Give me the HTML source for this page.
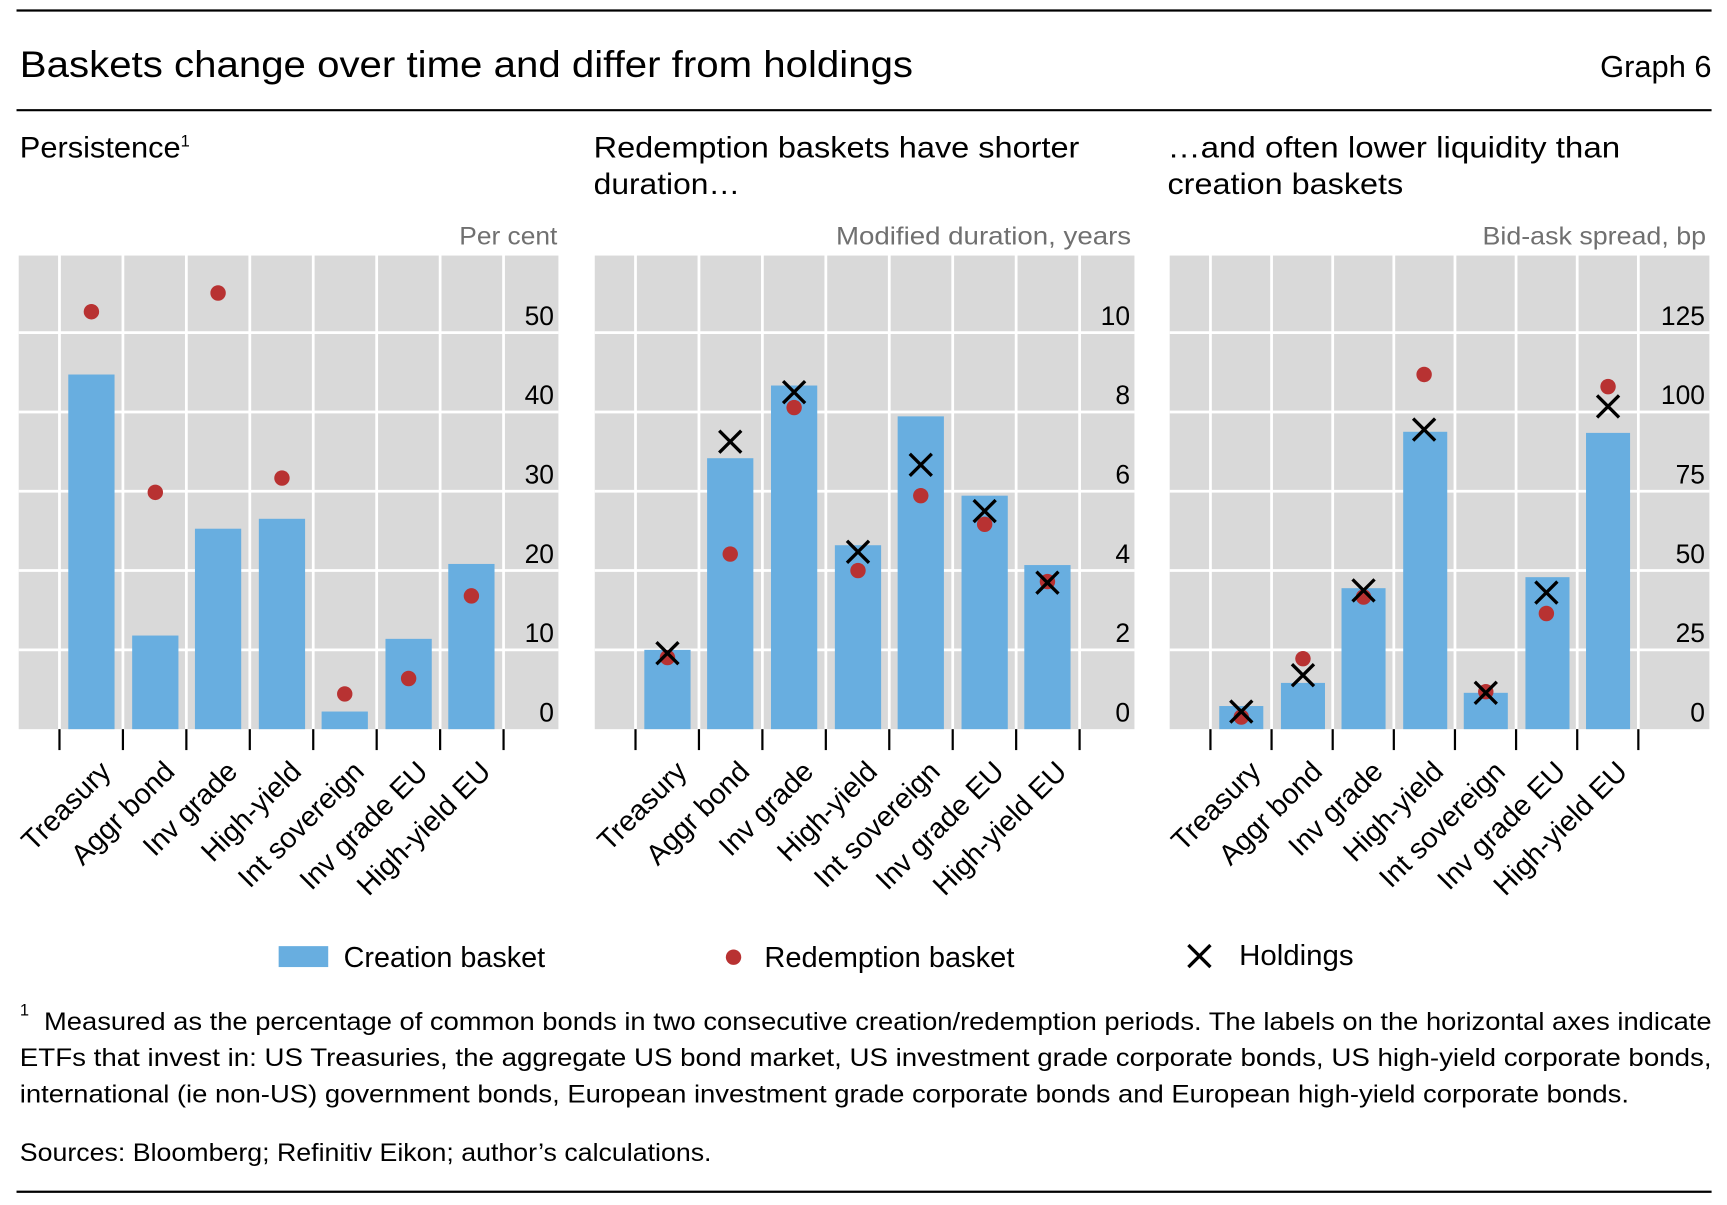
<!DOCTYPE html>
<html><head><meta charset="utf-8"><style>
html,body{margin:0;padding:0;background:#fff}
svg{display:block}
text{font-family:"Liberation Sans",sans-serif}
</style></head><body>
<svg width="1727" height="1205" viewBox="0 0 1568 1094" xmlns="http://www.w3.org/2000/svg">
<rect width="1568" height="1094" fill="#fff"/>
<line x1="15" y1="9.5" x2="1554" y2="9.5" stroke="#000" stroke-width="2"/>
<text x="18" y="70" font-size="34" textLength="811" lengthAdjust="spacingAndGlyphs">Baskets change over time and differ from holdings</text>
<text x="1554" y="70" font-size="28" text-anchor="end">Graph 6</text>
<line x1="15" y1="100" x2="1554" y2="100" stroke="#000" stroke-width="2"/>

<text x="18" y="143" font-size="27"><tspan textLength="146" lengthAdjust="spacingAndGlyphs">Persistence</tspan><tspan font-size="15" dy="-10">1</tspan></text>
<text x="539" y="143" font-size="27" textLength="441" lengthAdjust="spacingAndGlyphs">Redemption baskets have shorter</text>
<text x="539" y="176" font-size="27" textLength="133" lengthAdjust="spacingAndGlyphs">duration…</text>
<text x="1060" y="143" font-size="27" textLength="411" lengthAdjust="spacingAndGlyphs">…and often lower liquidity than</text>
<text x="1060" y="176" font-size="27" textLength="214" lengthAdjust="spacingAndGlyphs">creation baskets</text>

<g font-size="23" fill="#707070">
<text x="417" y="222" textLength="89" lengthAdjust="spacingAndGlyphs">Per cent</text>
<text x="759" y="222" textLength="268" lengthAdjust="spacingAndGlyphs">Modified duration, years</text>
<text x="1346" y="222" textLength="203" lengthAdjust="spacingAndGlyphs">Bid-ask spread, bp</text>
</g>

<rect x="17" y="232" width="490" height="430" fill="#d9d9d9"/>
<rect x="540" y="232" width="490" height="430" fill="#d9d9d9"/>
<rect x="1062" y="232" width="490" height="430" fill="#d9d9d9"/>
<g stroke="#fff" stroke-width="2.5">
<line x1="17" x2="507" y1="302" y2="302"/><line x1="17" x2="507" y1="374" y2="374"/><line x1="17" x2="507" y1="446" y2="446"/><line x1="17" x2="507" y1="518" y2="518"/><line x1="17" x2="507" y1="590" y2="590"/>
<line x1="540" x2="1030" y1="302" y2="302"/><line x1="540" x2="1030" y1="374" y2="374"/><line x1="540" x2="1030" y1="446" y2="446"/><line x1="540" x2="1030" y1="518" y2="518"/><line x1="540" x2="1030" y1="590" y2="590"/>
<line x1="1062" x2="1552" y1="302" y2="302"/><line x1="1062" x2="1552" y1="374" y2="374"/><line x1="1062" x2="1552" y1="446" y2="446"/><line x1="1062" x2="1552" y1="518" y2="518"/><line x1="1062" x2="1552" y1="590" y2="590"/>
<line x1="54" x2="54" y1="232" y2="662"/><line x1="111.6" x2="111.6" y1="232" y2="662"/><line x1="169.2" x2="169.2" y1="232" y2="662"/><line x1="226.8" x2="226.8" y1="232" y2="662"/><line x1="284.4" x2="284.4" y1="232" y2="662"/><line x1="342" x2="342" y1="232" y2="662"/><line x1="399.6" x2="399.6" y1="232" y2="662"/><line x1="457.2" x2="457.2" y1="232" y2="662"/>
<line x1="577" x2="577" y1="232" y2="662"/><line x1="634.6" x2="634.6" y1="232" y2="662"/><line x1="692.2" x2="692.2" y1="232" y2="662"/><line x1="749.8" x2="749.8" y1="232" y2="662"/><line x1="807.4" x2="807.4" y1="232" y2="662"/><line x1="865" x2="865" y1="232" y2="662"/><line x1="922.6" x2="922.6" y1="232" y2="662"/><line x1="980.2" x2="980.2" y1="232" y2="662"/>
<line x1="1099" x2="1099" y1="232" y2="662"/><line x1="1154.5" x2="1154.5" y1="232" y2="662"/><line x1="1210" x2="1210" y1="232" y2="662"/><line x1="1265.5" x2="1265.5" y1="232" y2="662"/><line x1="1321" x2="1321" y1="232" y2="662"/><line x1="1376.5" x2="1376.5" y1="232" y2="662"/><line x1="1432" x2="1432" y1="232" y2="662"/><line x1="1487.5" x2="1487.5" y1="232" y2="662"/>
</g>
<g stroke="#000" stroke-width="2">
<line x1="54" x2="54" y1="662" y2="681"/><line x1="111.6" x2="111.6" y1="662" y2="681"/><line x1="169.2" x2="169.2" y1="662" y2="681"/><line x1="226.8" x2="226.8" y1="662" y2="681"/><line x1="284.4" x2="284.4" y1="662" y2="681"/><line x1="342" x2="342" y1="662" y2="681"/><line x1="399.6" x2="399.6" y1="662" y2="681"/><line x1="457.2" x2="457.2" y1="662" y2="681"/>
<line x1="577" x2="577" y1="662" y2="681"/><line x1="634.6" x2="634.6" y1="662" y2="681"/><line x1="692.2" x2="692.2" y1="662" y2="681"/><line x1="749.8" x2="749.8" y1="662" y2="681"/><line x1="807.4" x2="807.4" y1="662" y2="681"/><line x1="865" x2="865" y1="662" y2="681"/><line x1="922.6" x2="922.6" y1="662" y2="681"/><line x1="980.2" x2="980.2" y1="662" y2="681"/>
<line x1="1099" x2="1099" y1="662" y2="681"/><line x1="1154.5" x2="1154.5" y1="662" y2="681"/><line x1="1210" x2="1210" y1="662" y2="681"/><line x1="1265.5" x2="1265.5" y1="662" y2="681"/><line x1="1321" x2="1321" y1="662" y2="681"/><line x1="1376.5" x2="1376.5" y1="662" y2="681"/><line x1="1432" x2="1432" y1="662" y2="681"/><line x1="1487.5" x2="1487.5" y1="662" y2="681"/>
</g>

<g font-size="24" text-anchor="end">
<text x="503" y="295">50</text><text x="503" y="367">40</text><text x="503" y="439">30</text><text x="503" y="511">20</text><text x="503" y="583">10</text><text x="503" y="655">0</text>
<text x="1026" y="295">10</text><text x="1026" y="367">8</text><text x="1026" y="439">6</text><text x="1026" y="511">4</text><text x="1026" y="583">2</text><text x="1026" y="655">0</text>
<text x="1548" y="295">125</text><text x="1548" y="367">100</text><text x="1548" y="439">75</text><text x="1548" y="511">50</text><text x="1548" y="583">25</text><text x="1548" y="655">0</text>
</g>

<g fill="#68aee0">
<rect x="62" y="340" width="42" height="322"/><rect x="120" y="577" width="42" height="85"/><rect x="177" y="480" width="42" height="182"/><rect x="235" y="471" width="42" height="191"/><rect x="292" y="646" width="42" height="16"/><rect x="350" y="580" width="42" height="82"/><rect x="407" y="512" width="42" height="150"/>
<rect x="585" y="590" width="42" height="72"/><rect x="642" y="416" width="42" height="246"/><rect x="700" y="350" width="42" height="312"/><rect x="758" y="495" width="42" height="167"/><rect x="815" y="378" width="42" height="284"/><rect x="873" y="450" width="42" height="212"/><rect x="930" y="513" width="42" height="149"/>
<rect x="1107" y="641" width="40" height="21"/><rect x="1163" y="620" width="40" height="42"/><rect x="1218" y="534" width="40" height="128"/><rect x="1274" y="392" width="40" height="270"/><rect x="1329" y="629" width="40" height="33"/><rect x="1385" y="524" width="40" height="138"/><rect x="1440" y="393" width="40" height="269"/>
</g>
<g fill="#b83232">
<circle cx="83" cy="283" r="7"/><circle cx="141" cy="447" r="7"/><circle cx="198" cy="266" r="7"/><circle cx="256" cy="434" r="7"/><circle cx="313" cy="630" r="7"/><circle cx="371" cy="616" r="7"/><circle cx="428" cy="541" r="7"/>
<circle cx="606" cy="597" r="7"/><circle cx="663" cy="503" r="7"/><circle cx="721" cy="370" r="7"/><circle cx="779" cy="518" r="7"/><circle cx="836" cy="450" r="7"/><circle cx="894" cy="476" r="7"/><circle cx="951" cy="528" r="7"/>
<circle cx="1127" cy="651" r="7"/><circle cx="1183" cy="598" r="7"/><circle cx="1238" cy="542" r="7"/><circle cx="1293" cy="340" r="7"/><circle cx="1349" cy="628" r="7"/><circle cx="1404" cy="557" r="7"/><circle cx="1460" cy="351" r="7"/>
</g>
<g stroke="#000" stroke-width="3" fill="none">
<path d="M596 583l20 20M616 583l-20 20"/><path d="M653 391l20 20M673 391l-20 20"/><path d="M711 346l20 20M731 346l-20 20"/><path d="M769 491l20 20M789 491l-20 20"/><path d="M826 412l20 20M846 412l-20 20"/><path d="M884 454l20 20M904 454l-20 20"/><path d="M941 519l20 20M961 519l-20 20"/>
<path d="M1117 636l20 20M1137 636l-20 20"/><path d="M1173 603l20 20M1193 603l-20 20"/><path d="M1228 526l20 20M1248 526l-20 20"/><path d="M1283 380l20 20M1303 380l-20 20"/><path d="M1339 619l20 20M1359 619l-20 20"/><path d="M1394 528l20 20M1414 528l-20 20"/><path d="M1450 359l20 20M1470 359l-20 20"/>
</g>

<g font-size="26" text-anchor="end">
<text transform="translate(102,702) rotate(-45)">Treasury</text>
<text transform="translate(160,702) rotate(-45)">Aggr bond</text>
<text transform="translate(217,702) rotate(-45)">Inv grade</text>
<text transform="translate(275,702) rotate(-45)">High-yield</text>
<text transform="translate(332,702) rotate(-45)">Int sovereign</text>
<text transform="translate(390,702) rotate(-45)">Inv grade EU</text>
<text transform="translate(447,702) rotate(-45)">High-yield EU</text>
<text transform="translate(625,702) rotate(-45)">Treasury</text>
<text transform="translate(682,702) rotate(-45)">Aggr bond</text>
<text transform="translate(740,702) rotate(-45)">Inv grade</text>
<text transform="translate(798,702) rotate(-45)">High-yield</text>
<text transform="translate(855,702) rotate(-45)">Int sovereign</text>
<text transform="translate(913,702) rotate(-45)">Inv grade EU</text>
<text transform="translate(970,702) rotate(-45)">High-yield EU</text>
<text transform="translate(1146,702) rotate(-45)">Treasury</text>
<text transform="translate(1202,702) rotate(-45)">Aggr bond</text>
<text transform="translate(1257,702) rotate(-45)">Inv grade</text>
<text transform="translate(1312,702) rotate(-45)">High-yield</text>
<text transform="translate(1368,702) rotate(-45)">Int sovereign</text>
<text transform="translate(1423,702) rotate(-45)">Inv grade EU</text>
<text transform="translate(1479,702) rotate(-45)">High-yield EU</text>
</g>

<rect x="253" y="859" width="45" height="19" fill="#68aee0"/>
<text x="312" y="878" font-size="26" textLength="183" lengthAdjust="spacingAndGlyphs">Creation basket</text>
<circle cx="666" cy="869" r="7" fill="#b83232"/>
<text x="694" y="878" font-size="26" textLength="227" lengthAdjust="spacingAndGlyphs">Redemption basket</text>
<path d="M1079 858l20 20M1099 858l-20 20" stroke="#000" stroke-width="3"/>
<text x="1125" y="876" font-size="26" textLength="104" lengthAdjust="spacingAndGlyphs">Holdings</text>

<text x="18" y="922" font-size="15">1</text>
<text x="40" y="935" font-size="23" textLength="1514" lengthAdjust="spacingAndGlyphs">Measured as the percentage of common bonds in two consecutive creation/redemption periods. The labels on the horizontal axes indicate</text>
<text x="18" y="968" font-size="23" textLength="1536" lengthAdjust="spacingAndGlyphs">ETFs that invest in: US Treasuries, the aggregate US bond market, US investment grade corporate bonds, US high-yield corporate bonds,</text>
<text x="18" y="1001" font-size="23" textLength="1461" lengthAdjust="spacingAndGlyphs">international (ie non-US) government bonds, European investment grade corporate bonds and European high-yield corporate bonds.</text>
<text x="18" y="1054" font-size="23" textLength="628" lengthAdjust="spacingAndGlyphs">Sources: Bloomberg; Refinitiv Eikon; author’s calculations.</text>
<line x1="15" y1="1082" x2="1554" y2="1082" stroke="#000" stroke-width="2"/>
</svg>
</body></html>
